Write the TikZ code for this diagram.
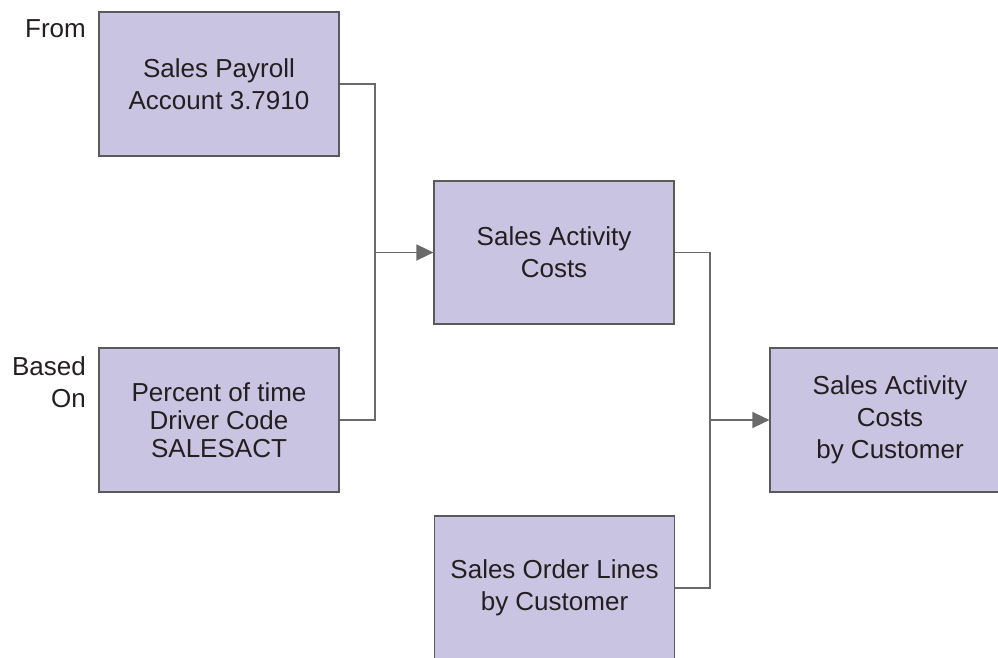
\documentclass[tikz,border=0pt]{standalone}
\usepackage{fontspec}
\setmainfont{Liberation Sans}
\usetikzlibrary{arrows.meta}
\definecolor{boxfill}{HTML}{C8C4E1}
\definecolor{boxline}{HTML}{5A5A5A}
\definecolor{conn}{HTML}{6A6A6A}
\definecolor{txt}{HTML}{231F20}
\tikzset{
  box/.style={draw=boxline, line width=1.2pt, fill=boxfill, minimum width=240pt, minimum height=144pt,
    inner sep=0pt, align=center, text=txt, font=\fontsize{26}{32}\selectfont},
  conline/.style={draw=conn, line width=1.5pt},
  arr/.style={conline, -{Triangle[length=17pt,width=16pt]}},
  lbl/.style={text=txt, inner sep=0pt, align=right, font=\fontsize{26}{32}\selectfont}
}
\begin{document}
\begin{tikzpicture}[x=1pt,y=-1pt]
\useasboundingbox (0,0) rectangle (998,658);
\clip (0,0) rectangle (998,658);
\node[box] (b1) at (219,84) {Sales Payroll\\Account 3.7910};
\node[box, font=\fontsize{26}{28}\selectfont] (b2) at (219,420) {Percent of time\\Driver Code\\SALESACT};
\node[box, minimum height=143pt] (b3) at (554,252.5) {Sales Activity\\Costs};
\node[box] (b4) at (890,420) {Sales Activity\\Costs\\by Customer};
\node[box] (b5) at (554.5,588) {Sales Order Lines\\by Customer};
\node[lbl, anchor=base east] (from) at (86,37.7) {From};
\node[lbl, anchor=east] (based) at (86,382) {Based\\On};
\coordinate (j1) at (375,252.5);
\coordinate (j2) at (710,420);
\draw[conline] (b1.east) -| (j1) |- (b2.east);
\draw[arr] (j1) -- (b3.west);
\draw[conline] (b3.east) -| (j2) |- (b5.east);
\draw[arr] (j2) -- (b4.west);
\end{tikzpicture}
\end{document}
